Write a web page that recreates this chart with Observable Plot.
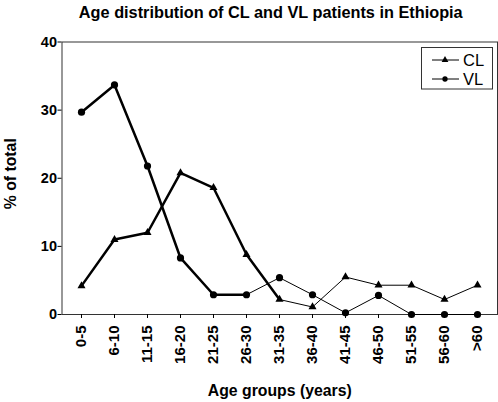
<!DOCTYPE html>
<html><head><meta charset="utf-8">
<script src="https://cdn.jsdelivr.net/npm/d3@7"></script>
<script src="https://cdn.jsdelivr.net/npm/@observablehq/plot@0.6"></script>
<style>body{margin:0;background:#fff}</style>
</head><body><div id="chart"></div>
<script>
const ageGroups = ["0-5","6-10","11-15","16-20","21-25","26-30","31-35","36-40","41-45","46-50","51-55","56-60",">60"];
const clValues = [4.2, 11.0, 12.0, 20.8, 18.6, 8.8, 2.2, 1.1, 5.5, 4.3, 4.3, 2.2, 4.3];
const vlValues = [29.7, 33.7, 21.8, 8.3, 2.9, 2.9, 5.4, 2.9, 0.25, 2.8, 0, 0, 0];
const yTicks = [0, 10, 20, 30, 40];
const seriesNames = ["CL", "VL"];
const titleText = "Age distribution of CL and VL patients in Ethiopia";
const xLabel = "Age groups (years)";
const yLabel = "% of total";

// style: index of last point drawn with the heavy stroke
const thickUntil = {CL: 6, VL: 5};

const cl = ageGroups.map((a, i) => ({age: a, value: clValues[i], series: "CL", i}));
const vl = ageGroups.map((a, i) => ({age: a, value: vlValues[i], series: "VL", i}));
const rows = cl.concat(vl);

const font = "'Liberation Sans', Arial, Helvetica, sans-serif";

const plot = Plot.plot({
  width: 498, height: 402,
  marginLeft: 61.5, marginRight: 1, marginTop: 41.5, marginBottom: 88,
  style: {fontFamily: font, background: "#fff", color: "#000", overflow: "visible"},
  x: {type: "point", domain: ageGroups, padding: 0.5, label: null},
  y: {domain: [0, 40], label: null},
  marks: [
    Plot.frame({stroke: "#333"}),
    Plot.axisY({ticks: yTicks, tickSize: 4, tickPadding: 1, fontSize: 14.5, fontWeight: "bold", label: null}),
    Plot.axisX({tickSize: 4, tickPadding: 7, tickRotate: -90, fontSize: 15, fontWeight: "bold", label: null}),
    Plot.line(rows.filter(d => d.i <= thickUntil[d.series]), {x: "age", y: "value", z: "series", stroke: "#000", strokeWidth: 2.5}),
    Plot.line(rows.filter(d => d.i >= thickUntil[d.series]), {x: "age", y: "value", z: "series", stroke: "#000", strokeWidth: 1}),
    Plot.dot(cl, {x: "age", y: "value", symbol: "triangle", r: 3, fill: "#000"}),
    Plot.dot(vl, {x: "age", y: "value", symbol: "circle", r: 3.6, fill: "#000"}),
    Plot.text([titleText], {text: d => d, frameAnchor: "top", textAnchor: "middle", lineAnchor: "middle", dx: -9, dy: -29.5, fontSize: 16.3, fontWeight: "bold"}),
    Plot.text([xLabel], {text: d => d, frameAnchor: "bottom", textAnchor: "middle", lineAnchor: "middle", dy: 76, fontSize: 15.8, fontWeight: "bold"}),
    Plot.text([yLabel], {text: d => d, frameAnchor: "left", textAnchor: "middle", lineAnchor: "middle", dx: -51.5, dy: -4.5, rotate: -90, fontSize: 15.8, fontWeight: "bold"})
  ]
});

// legend (drawn into the same SVG)
const svg = d3.select(plot);
const lg = svg.append("g").attr("font-family", font).attr("font-size", 16.5).attr("text-anchor", "start");
lg.append("rect").attr("x", 421.5).attr("y", 47.5).attr("width", 71).attr("height", 41.5)
  .attr("fill", "#fff").attr("stroke", "#333");
seriesNames.forEach((name, k) => {
  const cy = 60 + k * 19;
  lg.append("line").attr("x1", 432).attr("x2", 459).attr("y1", cy).attr("y2", cy).attr("stroke", "#000");
  lg.append("path").attr("transform", `translate(445,${cy})`)
    .attr("d", d3.symbol(name === "CL" ? d3.symbolTriangle : d3.symbolCircle, name === "CL" ? 20 : 22)())
    .attr("fill", "#000");
  lg.append("text").attr("x", 463).attr("y", cy).attr("dy", "0.35em").attr("text-anchor", "start").text(name);
});

document.getElementById("chart").appendChild(plot);
</script>
</body></html>
